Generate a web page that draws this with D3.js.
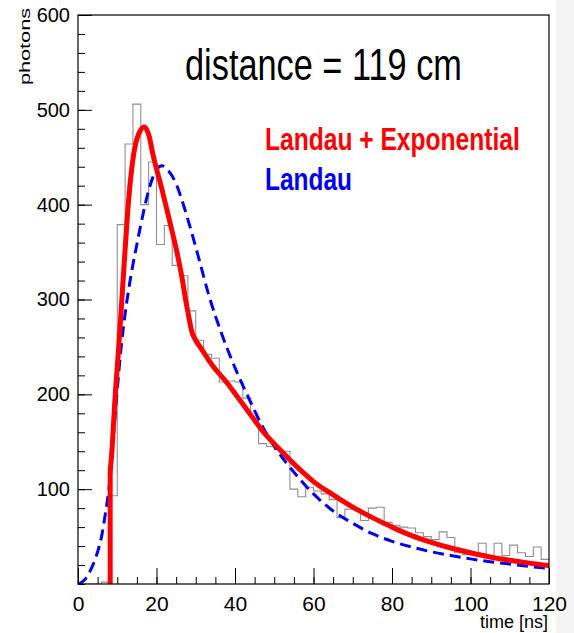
<!DOCTYPE html>
<html><head><meta charset="utf-8">
<script src="https://cdn.jsdelivr.net/npm/d3@7"></script>
<style>
body{margin:0;background:#fff;}
svg{display:block;font-family:"Liberation Sans",Arial,Helvetica,sans-serif;}
</style>
</head><body>
<svg id="c" width="574" height="633"></svg>
<script>
// ---------- data ----------
const binStarts = d3.range(0, 120, 2);           // histogram bin lower edges (ns)
const binWidth = 2;
const counts = [0,0,0,2,93,379,464,506,400,445,358,378,336,325,288,257,242,238,213,214,
                213,196,175,148,145,142,140,100,92,102,98,95,89,70,79,79,67,80,81,65,
                62,60,59,54,50,47,55,49,33,31,32,43,30,43,30,41,33,29,39,26];

// Landau + Exponential fit
const redT = [8.2,8.8,9.3,10.5,11.8,12.9,14.1,15.5,16.9,18.0,19.2,21.4,23.5,25.2,26.5,27.5,28.3,29.0,30.0,31.6,
              34.5,38.0,40.5,43.0,46.9,51.6,56.7,60,65,70,75,80,85,90,95,100,105,110,115,120];
const redV = [118,150,187,257,340,405,451,475,482,474,451,416,380,350,323,298,280,266,257,247,
              229,212,198,184,162,141,120,108,94,81,70,60,51,44,38,33,28.5,25,22,19.5];
const redStart = 8.2;

// Landau fit
const blueT = [0,1,2,3,4,5,6,7,8,9,10,11,12,13,14,15,16,17,18,19,20,21.4,23,25,27,29,31,33.3,36.5,
               40,43.5,47,50.7,55,60,65,70,75,80,85,90,95,100,105,110,115,120];
const blueV = [0,2,6,13,22,34,50,75,105,155,205,250,285,313,337,358,379,398,415,428,437,441,436,422,398,370,340,305,265,
               228,196,166,141,118,95,77,64,53,45,39,34,30,26.5,23.5,21,18.5,16.5];

const xMajor = [0,20,40,60,80,100,120];
const xMinor = [0,5,10,15,20,25,30,35,40,45,50,55,60,65,70,75,80,85,90,95,100,105,110,115,120];
const yMajor = [100,200,300,400,500,600];
const yMinor = [0,20,40,60,80,100,120,140,160,180,200,220,240,260,280,300,320,340,360,380,400,
                420,440,460,480,500,520,540,560,580,600];

const title = "distance = 119 cm";
const legendLabels = ["Landau + Exponential", "Landau"];
const xTitle = "time [ns]";
const yTitle = "photons";

// ---------- drawing ----------
const svg = d3.select("#c");
svg.append("rect").attr("width",574).attr("height",633).attr("fill","#fff");
svg.append("rect").attr("x",556).attr("width",18).attr("height",633).attr("fill","#f4f4f4");

const x = d3.scaleLinear().domain([0,120]).range([78,549]);
const y = d3.scaleLinear().domain([0,600]).range([584,15]);

svg.append("clipPath").attr("id","clip").append("rect")
  .attr("x",78).attr("y",15).attr("width",471).attr("height",569);

const plot = svg.append("g").attr("clip-path","url(#clip)");

// histogram
const histPts = binStarts.map((b,i)=>[b,counts[i]]);
histPts.push([binStarts[binStarts.length-1]+binWidth, counts[counts.length-1]]);
plot.append("path")
  .attr("d", d3.line().x(d=>x(d[0])).y(d=>y(d[1])).curve(d3.curveStepAfter)(histPts))
  .attr("fill","none").attr("stroke","#8f8f8f").attr("stroke-width",1.1);

// blue dashed Landau
plot.append("path")
  .attr("d", d3.line().x((d,i)=>x(blueT[i])).y(d=>y(d)).curve(d3.curveMonotoneX)(blueV))
  .attr("fill","none").attr("stroke","#0000ee").attr("stroke-width",3)
  .attr("stroke-dasharray","11,6");

// red fit
plot.append("path")
  .attr("d", d3.line()([[x(redStart),y(0)],[x(redStart),y(redV[0])]]))
  .attr("fill","none").attr("stroke","#ff0000").attr("stroke-width",5);
plot.append("path")
  .attr("d", d3.line().x((d,i)=>x(redT[i])).y(d=>y(d)).curve(d3.curveMonotoneX)(redV))
  .attr("fill","none").attr("stroke","#ff0000").attr("stroke-width",5)
  .attr("stroke-linejoin","round").attr("stroke-linecap","round");

// axes
function styleAxis(g){ g.select(".domain").remove(); g.selectAll("line").attr("stroke","#000").attr("stroke-width",1); }
svg.append("g").attr("transform","translate(78,0)")
  .call(d3.axisLeft(y).tickValues(yMinor).tickSize(-7).tickFormat("")).call(styleAxis);
const gyL = svg.append("g").attr("transform","translate(78,0)")
  .call(d3.axisLeft(y).tickValues(yMajor).tickSize(-14).tickPadding(8).tickFormat(d3.format("d"))).call(styleAxis);
gyL.selectAll("text").attr("font-size",20).attr("fill","#000")
  .attr("font-family","'Liberation Sans',Arial,sans-serif");

svg.append("g").attr("transform","translate(0,584)")
  .call(d3.axisBottom(x).tickValues(xMinor).tickSize(-7).tickFormat("")).call(styleAxis);
const gxL = svg.append("g").attr("transform","translate(0,584)")
  .call(d3.axisBottom(x).tickValues(xMajor).tickSize(-16).tickPadding(12).tickFormat(d3.format("d"))).call(styleAxis);
gxL.selectAll("text").attr("font-size",21).attr("fill","#000")
  .attr("font-family","'Liberation Sans',Arial,sans-serif");

// frame
svg.append("rect").attr("x",78).attr("y",15).attr("width",471).attr("height",569)
  .attr("fill","none").attr("stroke","#000").attr("stroke-width",1.2);

// axis titles
svg.append("text").attr("x",548).attr("y",628).attr("text-anchor","end")
  .attr("font-size",18).attr("fill","#000").text(xTitle);
svg.append("text").attr("transform","translate(30,8) rotate(-90)").attr("text-anchor","end")
  .attr("font-size",15).attr("fill","#000").attr("textLength",77).attr("lengthAdjust","spacingAndGlyphs")
  .text(yTitle);

// annotations (narrow, Calibri-like: condensed horizontally to the measured widths)
function condensed(txt, x0, y0, size, weight, color, targetW){
  const g = svg.append("g").attr("transform",`translate(${x0},${y0})`);
  const t = g.append("text").attr("x",0).attr("y",0).attr("font-size",size)
    .attr("font-weight",weight).attr("fill",color).text(txt);
  const w = t.node().getComputedTextLength();
  g.attr("transform",`translate(${x0},${y0}) scale(${targetW / w},1)`);
}
condensed(title, 185, 80, 45, "normal", "#000", 277);
condensed(legendLabels[0], 265, 150, 31, "bold", "#ff0000", 255);
condensed(legendLabels[1], 265, 190, 31, "bold", "#0000ee", 87);
</script>
</body></html>
